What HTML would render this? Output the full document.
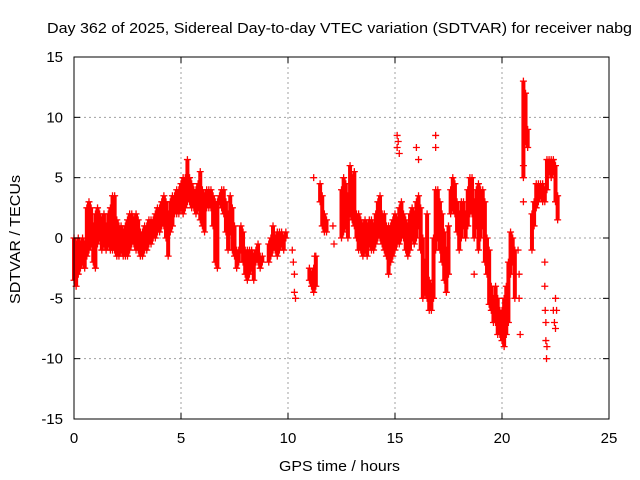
<!DOCTYPE html>
<html><head><meta charset="utf-8">
<style>
body{margin:0;background:#fff;}
svg{display:block;font-family:"Liberation Sans",sans-serif;}
</style></head>
<body>
<svg id="chart" width="640" height="480" viewBox="0 0 640 480" xmlns="http://www.w3.org/2000/svg">
<rect width="640" height="480" fill="#fff"/>
<text x="47" y="33" font-size="15" textLength="585" lengthAdjust="spacingAndGlyphs">Day 362 of 2025, Sidereal Day-to-day VTEC variation (SDTVAR) for receiver nabg</text>
<g id="grid"></g>
<g id="marks"></g>
<rect x="74" y="57" width="535" height="362" fill="none" stroke="#000" stroke-width="1"/>
<g id="ticks"></g>
<text x="279" y="471" font-size="15" textLength="121" lengthAdjust="spacingAndGlyphs">GPS time / hours</text>
<text x="20" y="304" font-size="15" textLength="129" lengthAdjust="spacingAndGlyphs" transform="rotate(-90 20 304)">SDTVAR / TECUs</text>
</svg>
<script>
const xTicks=[0,5,10,15,20,25];
const yTicks=[-15,-10,-5,0,5,10,15];
const times=[0.0,0.1,0.2,0.3,0.4,0.5,0.6,0.7,0.8,0.9,1.0,1.1,1.2,1.3,1.4,1.5,1.6,1.7,1.8,1.9,2.0,2.1,2.2,2.3,2.4,2.5,2.6,2.7,2.8,2.9,3.0,3.1,3.2,3.3,3.4,3.5,3.6,3.7,3.8,3.9,4.0,4.1,4.2,4.3,4.4,4.5,4.6,4.7,4.8,4.9,5.0,5.1,5.2,5.3,5.4,5.5,5.6,5.7,5.8,5.9,6.0,6.1,6.2,6.3,6.4,6.5,6.6,6.7,6.8,6.9,7.0,7.1,7.2,7.3,7.4,7.5,7.6,7.7,7.8,7.9,8.0,8.1,8.2,8.3,8.4,8.5,8.6,8.7,8.8,9.1,9.2,9.3,9.4,9.5,9.6,9.7,9.8,9.9,11.0,11.1,11.2,11.3,11.5,11.6,11.7,11.8,12.5,12.6,12.7,12.8,12.9,13.0,13.1,13.2,13.3,13.4,13.5,13.6,13.7,13.8,13.9,14.0,14.1,14.2,14.3,14.4,14.5,14.6,14.7,14.8,14.9,15.0,15.1,15.2,15.3,15.4,15.5,15.6,15.7,15.8,15.9,16.0,16.1,16.2,16.3,16.4,16.5,16.6,16.7,16.8,16.9,17.0,17.1,17.2,17.3,17.4,17.5,17.6,17.7,17.8,17.9,18.0,18.1,18.2,18.3,18.4,18.5,18.6,18.7,18.8,18.9,19.0,19.1,19.2,19.3,19.4,19.5,19.6,19.7,19.8,19.9,20.0,20.1,20.2,20.3,20.4,20.5,20.6,21.0,21.1,21.2,21.4,21.5,21.6,21.7,21.8,21.9,22.0,22.1,22.2,22.3,22.4,22.5,22.6];
const lows=[-3.5,-4,-3,-2.5,-2,-2.5,-1.5,-1,-0.5,-2,-2.5,-0.5,0,-1,-0.5,-1,-0.5,-1,-1,-1,-1.5,-1.5,-1,-1.5,-1.5,-1.5,-1,-0.5,-0.5,-1,-1,-1.5,-1.5,-1,-1,-0.5,-0.5,0,0,0.5,0.5,1,1,0,-1.5,0.5,1,2,2,2,2.5,2,2.5,3,3,2.5,2.5,2,2.5,1.5,1,0.5,2.5,2.5,2.5,1,-2,-2.5,3,2.5,2,0.5,-1,0.5,-1,-1.5,-2.5,-2,-1,-2,-3,-3.5,-3,-2.5,-3.5,-2,-2,-2.5,-2,-2,-1.5,-1,-1,-1.5,-1,-0.5,-1,0,-3.5,-4,-4.5,-4,3,1,0.5,0.5,0,0.5,1,0,2,1.5,1,0,-1,-1,-1.5,-1,-1.5,-0.5,-1,-1,-0.5,0,0,-0.5,-1,-1.5,-3,-2,-1.5,-1,-0.5,-0.5,0,0,-1,-1.5,-1,0,-0.5,0,1,-1,-5,-4.5,-5,-6,-6,-5,-1,0,-1,-2,-3.5,-4.5,-3,2,2.5,2,0.5,-1,0,1,0,1,2,2,0,1,-1,0,1,-2,-3,-5.5,-6,-7,-7,-8,-8,-8.5,-9,-8,-7,-3,-2,-5,5,8,7.5,-1,1,2.5,3,3.5,3,3,4,5.5,5,5.5,3,1.5];
const highs=[0,-0.5,0,-0.5,0,-0.5,2.5,3,2.5,1,2,2.5,2,1.5,2,1,2,2.5,3.5,3.5,1.5,1,1,0.5,1,1.5,2,2,1.5,2,1.5,0.5,0.5,1,1,1.5,1.5,1.5,2,2.5,2.5,3,3.5,3,2,3,3.5,3.5,4,4,4.5,5,5,6.5,5,4.5,4,4,4.5,5.5,4,3.5,4,4,4,3.5,3,3,3.5,4,4,3,2,3.5,2.5,1,-1,-1,1,0.5,-1,-1,-1,-1,-1.5,-1,-0.5,-1.5,-1.5,-0.5,0,1,0,0.5,0.5,0.5,0,0.5,-2.5,-3,-2.5,-1.5,4.5,3.5,2,1.5,4,5,4.5,3.5,6,5,5.5,2,2,1.5,1,1.5,1,1.5,1.5,1,2,3,3.5,2,2,1,1,1,1.5,2,1.5,2.5,3,2,1.5,1,2,2.5,2,3,3.5,2.5,0,-2,2,-3.5,-4,0,4,4,3,2,0.5,-1,1,4,5,4.5,3,2,3,3,2,4,5,5,3,4,4.5,4,4,3,0,-1,-4,-5,-4,-5,-6,-6,-5,-4,-2,0.5,0,-1,13,12,9,2,3,4.5,4.5,4.5,4.5,4,6.5,6.5,6.5,6.5,6,3.5];
const outT=[10.2,10.25,10.3,10.3,10.35,11.2,11.25,12.1,12.15,15.1,15.1,15.15,15.2,16.0,16.1,16.9,16.9,18.7,20.75,20.8,20.8,20.85,21.0,21.0,22.0,22.0,22.02,22.05,22.05,22.08,22.1,22.4,22.45,22.5,22.5,22.55];
const outV=[-1,-2,-3,-4.5,-5,5,-1.5,1,-0.5,7.5,8.5,8,7,7.5,6.5,7.5,8.5,-3,-1,-3,-5,-8,3,6,-2,-4,-6,-7,-8.5,-10,-9,-6,-7,-7.5,-5,-6];

const X0=74,X1=609,Y0=419,Y1=57;
const xs=v=>X0+(v-0)/25*(X1-X0);
const ys=v=>Y0-(v+15)/30*(Y0-Y1);
const NS='http://www.w3.org/2000/svg';
const grid=document.getElementById('grid'),ticks=document.getElementById('ticks'),marks=document.getElementById('marks');
function mk(tag,attrs,parent){const e=document.createElementNS(NS,tag);for(const k in attrs)e.setAttribute(k,attrs[k]);parent.appendChild(e);return e;}
xTicks.forEach(v=>{
  const x=xs(v);
  if(v>0&&v<25){const g=mk('line',{x1:x,x2:x,y1:Y1,y2:Y0,stroke:'#a0a0a0','stroke-dasharray':'2,3'},grid);
  
  }
  const t1=mk('line',{x1:x,x2:x,y1:Y0,y2:Y0-6,stroke:'#000'},ticks);
  
  
  const t2=mk('line',{x1:x,x2:x,y1:Y1,y2:Y1+6,stroke:'#000'},ticks);
  
  
  const l=mk('text',{x:x,y:443,'font-size':15,'text-anchor':'middle'},ticks);l.textContent=v;
  
  
});
yTicks.forEach(v=>{
  const y=ys(v);
  if(v>-15&&v<15){const g=mk('line',{x1:X0,x2:X1,y1:y,y2:y,stroke:'#a0a0a0','stroke-dasharray':'2,3'},grid);
  
  }
  const t1=mk('line',{x1:X0,x2:X0+6,y1:y,y2:y,stroke:'#000'},ticks);
  
  
  const t2=mk('line',{x1:X1,x2:X1-6,y1:y,y2:y,stroke:'#000'},ticks);
  
  
  const l=mk('text',{x:63,y:y+5,'font-size':15,'text-anchor':'end'},ticks);l.textContent=v;
  
  
});
function plus(t,v){
  const x=xs(t),y=ys(v);
  const p=mk('path',{d:`M${x-3.5},${y}h7M${x},${y-3.5}v7`,stroke:'#f00','stroke-width':1.3,fill:'none'},marks);
  
  
}
times.forEach((t,i)=>{
  const lo=lows[i],hi=highs[i];
  const r=mk('rect',{x:xs(t)-2,y:ys(hi),width:4,height:Math.max(0,ys(lo)-ys(hi)),fill:'#f00'},marks);
  
  
  plus(t,lo);plus(t,hi);
});
outT.forEach((t,i)=>plus(t,outV[i]));
</script>
</body></html>
